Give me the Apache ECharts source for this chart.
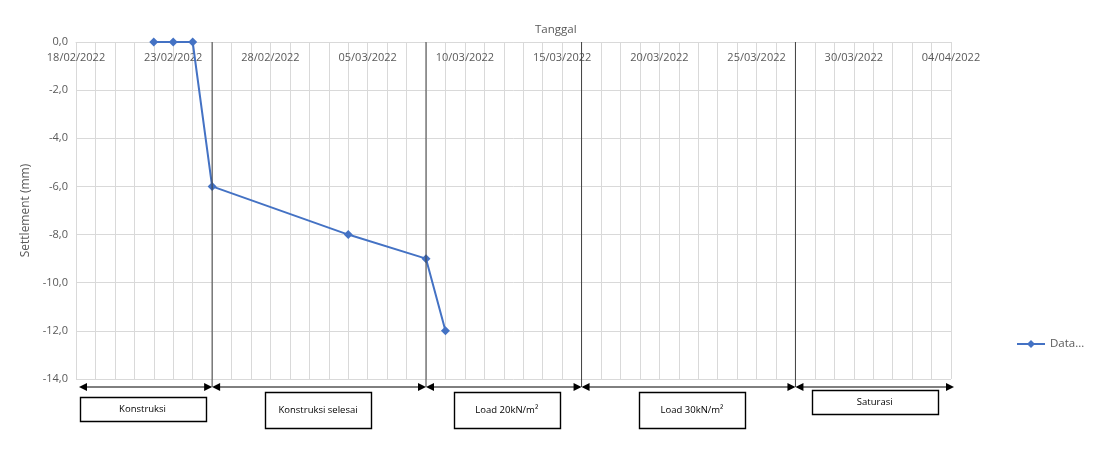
<!DOCTYPE html>
<html><head><meta charset="utf-8">
<script src="https://cdn.jsdelivr.net/npm/echarts@6/dist/echarts.min.js"></script>
<style>html,body{margin:0;padding:0;background:#fff}#c{width:1104px;height:456px}</style>
</head><body><div id="c"></div>
<script>
// ---- data ----
const axisStart = '18/02/2022';
const axisEnd = '04/04/2022';
const labelStepDays = 5;
const dates = ['22/02/2022','23/02/2022','24/02/2022','25/02/2022','04/03/2022','08/03/2022','09/03/2022'];
const settlement = [0, 0, 0, -6, -8, -9, -12];
const phaseBounds = ['25/02/2022','08/03/2022','16/03/2022','27/03/2022'];
const phaseNames = ['Konstruksi','Konstruksi selesai','Load 20kN/m²','Load 30kN/m²','Saturasi'];
const seriesName = 'Data...';
const xTitle = 'Tanggal';
const yTitle = 'Settlement (mm)';
const yMin = -14, yMax = 0, yStep = 2;

// ---- helpers ----
const DAY = 86400000;
function parse(d){const [dd,mm,yy]=d.split('/').map(Number);return Date.UTC(yy,mm-1,dd);}
const t0 = parse(axisStart);
const toDay = d => Math.round((parse(d)-t0)/DAY);
function fmt(day){const dt=new Date(t0+day*DAY);const p=n=>String(n).padStart(2,'0');return p(dt.getUTCDate())+'/'+p(dt.getUTCMonth()+1)+'/'+dt.getUTCFullYear();}

const FONT = '"Open Sans", sans-serif';
const GRID = '#D9D9D9';
const TXT = '#595959';
const BLUE = '#4472C4';

const chart = echarts.init(document.getElementById('c'), null, {renderer:'canvas'});
chart.setOption({
  animation:false,
  backgroundColor:'#fff',
  title:{text:xTitle, left:530, top:19, textStyle:{fontFamily:FONT, fontSize:11.5, fontWeight:'normal', color:TXT}},
  grid:{left:76, right:153, top:42, bottom:77},
  legend:{left:1011, top:333, itemWidth:28, itemHeight:10, data:[seriesName],
    textStyle:{fontFamily:FONT, fontSize:11.5, color:TXT}},
  xAxis:{type:'value', position:'top', min:0, max:toDay(axisEnd), interval:labelStepDays,
    axisLine:{show:true, onZero:false, lineStyle:{color:GRID, width:1}},
    axisTick:{show:false},
    axisLabel:{inside:true, margin:10, formatter:fmt, color:TXT, fontFamily:FONT, fontSize:11},
    splitLine:{show:true, lineStyle:{color:GRID, width:1}},
    minorTick:{show:false, splitNumber:labelStepDays},
    minorSplitLine:{show:true, lineStyle:{color:GRID, width:1}}},
  yAxis:{type:'value', min:yMin, max:yMax, interval:yStep,
    name:yTitle, nameLocation:'middle', nameRotate:90, nameGap:41,
    nameTextStyle:{fontFamily:FONT, fontSize:12, color:TXT},
    axisLine:{show:false}, axisTick:{show:false},
    axisLabel:{formatter:v=>v.toFixed(1).replace('.',','), color:TXT, fontFamily:FONT, fontSize:11, margin:8},
    splitLine:{show:true, lineStyle:{color:GRID, width:1}}},
  series:[{name:seriesName, type:'line', symbol:'diamond', symbolSize:9,
    lineStyle:{color:BLUE, width:2}, itemStyle:{color:BLUE},
    data:dates.map((d,i)=>[toDay(d), settlement[i]])}]
});

// ---- annotation: phase boundaries, arrows, boxes ----
const px = (x,y)=>chart.convertToPixel({gridIndex:0},[x,y]);
const topY = px(0,yMax)[1];
const botY = px(0,yMin)[1];
const arrowY = botY + 8;
const xs = [0].concat(phaseBounds.map(toDay), [toDay(axisEnd)]).map(d=>px(d,0)[0]);
xs[0] += 3; xs[xs.length-1] += 3;
const g = [];
for (let i=1;i<xs.length-1;i++){
  g.push({type:'line', shape:{x1:xs[i], y1:topY, x2:xs[i], y2:arrowY}, style:{stroke:'#404040', lineWidth:1}, z:100});
}
const AL=8, AH=4;
for (let i=0;i<xs.length-1;i++){
  const a=xs[i], b=xs[i+1];
  g.push({type:'line', shape:{x1:a+2, y1:arrowY, x2:b-2, y2:arrowY}, style:{stroke:'#000', lineWidth:1}, z:100});
  g.push({type:'polygon', shape:{points:[[a,arrowY],[a+AL,arrowY-AH],[a+AL,arrowY+AH]]}, style:{fill:'#000'}, z:100});
  g.push({type:'polygon', shape:{points:[[b,arrowY],[b-AL,arrowY-AH],[b-AL,arrowY+AH]]}, style:{fill:'#000'}, z:100});
}
const boxW = [126,106,106,106,126];
const boxTop = [397,392,392,392,390];
const boxH = [24,36,36,36,24];
const boxDx = [-3,-1,3,3.5,0];
for (let i=0;i<phaseNames.length;i++){
  const cx=(xs[i]+xs[i+1])/2+boxDx[i];
  const x=Math.round(cx-boxW[i]/2)+0.5, y=boxTop[i]+0.5;
  g.push({type:'rect', shape:{x:x, y:y, width:boxW[i], height:boxH[i]}, style:{fill:'#fff', stroke:'#000', lineWidth:1.4}, z:100});
  g.push({type:'text', style:{x:cx, y:y+boxH[i]/2, text:phaseNames[i], align:'center', verticalAlign:'middle', font:'9.5px '+FONT, fill:'#000'}, z:101});
}
chart.setOption({graphic:g});
</script>
</body></html>
